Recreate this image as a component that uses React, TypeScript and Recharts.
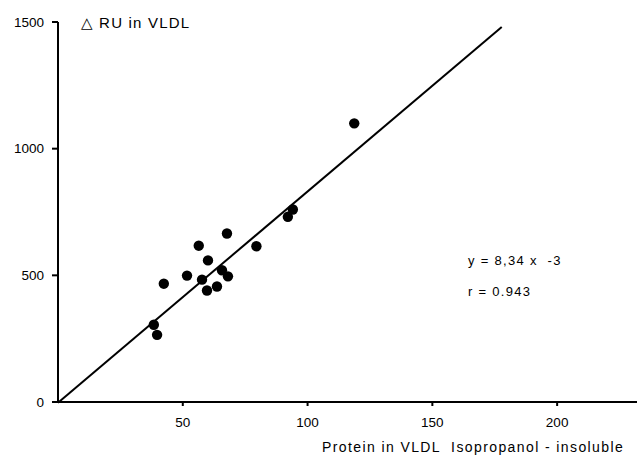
import React from "react";
import { ScatterChart, Scatter, XAxis, YAxis, ReferenceLine } from "recharts";

const proteinX = [42.4, 51.7, 56.4, 67.7, 60.1, 57.7, 59.7, 63.7, 65.7, 68.1, 79.5, 38.4, 39.7, 118.7, 94.1, 92.1];
const ruY = [467, 499, 617, 665, 559, 483, 440, 456, 520, 496, 615, 305, 265, 1100, 760, 731];
const xTicks = [50, 100, 150, 200];
const yTicks = [0, 500, 1000, 1500];
const fitSlope = 8.34;
const fitIntercept = -3;
const fitXRange = [0, 177.8];

const points = proteinX.map((x, i) => ({ x, y: ruY[i] }));
const fitSegment = fitXRange.map((x) => ({ x, y: fitSlope * x + fitIntercept }));

const FONT = "'Liberation Sans', 'DejaVu Sans', sans-serif";

export default function App() {
  return (
    <div style={{ position: "absolute", left: 0, top: 0, width: 637, height: 458, background: "#fff" }}>
      <ScatterChart width={637} height={458} margin={{ top: 22, right: 0, bottom: 26, left: 8 }}>
        <XAxis
          type="number"
          dataKey="x"
          domain={[0, 232]}
          ticks={xTicks}
          allowDataOverflow
          stroke="#000"
          strokeWidth={2}
          tickSize={4}
          tickMargin={11}
          height={30}
          tick={{ fill: "#000", fontSize: 13.5, fontFamily: FONT }}
        />
        <YAxis
          type="number"
          dataKey="y"
          domain={[0, 1500]}
          ticks={yTicks}
          allowDataOverflow
          stroke="#000"
          strokeWidth={2}
          tickSize={6}
          tickMargin={8}
          width={50}
          tick={{ fill: "#000", fontSize: 13.5, fontFamily: FONT }}
        />
        <ReferenceLine
          segment={fitSegment}
          stroke="#000"
          strokeWidth={2}
          ifOverflow="visible"
        />
        <Scatter data={points} fill="#000" isAnimationActive={false} shape={(p: any) => <circle cx={p.cx} cy={p.cy} r={5.2} fill="#000" />} />
      </ScatterChart>
      <svg width={637} height={458} style={{ position: "absolute", left: 0, top: 0, pointerEvents: "none" }}>
        <text x={81} y={28} fontSize={15} letterSpacing={1.2} fontFamily={FONT} fill="#000">△ RU in VLDL</text>
        <text x={468} y={265} fontSize={13} letterSpacing={1.3} fontFamily={FONT} fill="#000" xmlSpace="preserve">y = 8,34 x  -3</text>
        <text x={468} y={296} fontSize={13} letterSpacing={1.3} fontFamily={FONT} fill="#000">r = 0.943</text>
        <text x={322} y={452} fontSize={14} letterSpacing={1.4} fontFamily={FONT} fill="#000" xmlSpace="preserve">Protein in VLDL  Isopropanol - insoluble</text>
      </svg>
    </div>
  );
}
